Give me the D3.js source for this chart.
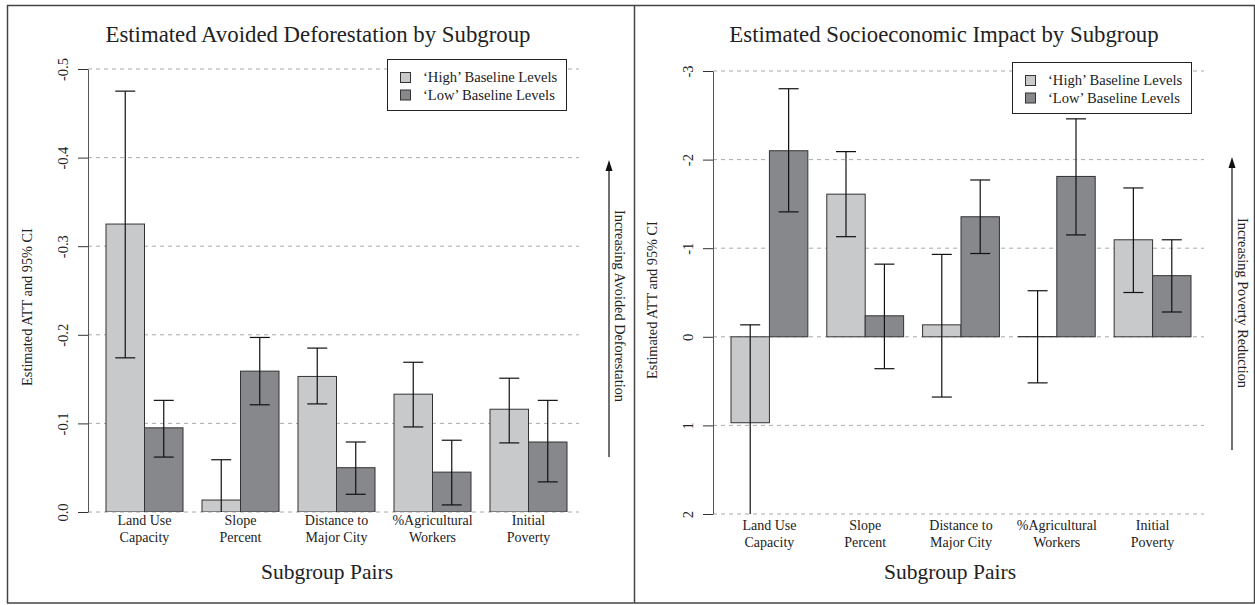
<!DOCTYPE html>
<html>
<head>
<meta charset="utf-8">
<script src="https://cdn.jsdelivr.net/npm/d3@7"></script>
<style>
  body { margin: 0; background: #fff; }
  text { font-family: "Liberation Serif", "Times New Roman", serif; fill: #222; }
</style>
</head>
<body>
<div id="chart"></div>
<script>
var svgWidth = 1255;
var svgHeight = 605;

// subgroup pairs (two-line labels)
var groups = [
  ["Land Use", "Capacity"],
  ["Slope", "Percent"],
  ["Distance to", "Major City"],
  ["%Agricultural", "Workers"],
  ["Initial", "Poverty"]
];
var seriesNames = ["\u2018High\u2019 Baseline Levels", "\u2018Low\u2019 Baseline Levels"];

// left chart: avoided deforestation (ATT, with 95% CI ends)
var defHighEst = [-0.325, -0.0135, -0.153, -0.133, -0.116];
var defHighUpper = [-0.475, -0.059, -0.185, -0.169, -0.151];
var defHighLower = [-0.174, 0.032, -0.122, -0.096, -0.078];
var defLowEst = [-0.095, -0.159, -0.050, -0.045, -0.079];
var defLowUpper = [-0.126, -0.197, -0.079, -0.081, -0.126];
var defLowLower = [-0.062, -0.121, -0.020, -0.008, -0.034];
var defTicks = [-0.5, -0.4, -0.3, -0.2, -0.1, 0.0];

// right chart: socioeconomic impact
var socHighEst = [0.97, -1.61, -0.135, -0.003, -1.095];
var socHighUpper = [-0.135, -2.09, -0.93, -0.52, -1.68];
var socHighLower = [2.08, -1.13, 0.68, 0.52, -0.50];
var socLowEst = [-2.10, -0.237, -1.355, -1.81, -0.69];
var socLowUpper = [-2.80, -0.82, -1.77, -2.46, -1.095];
var socLowLower = [-1.41, 0.36, -0.94, -1.15, -0.28];
var socTicks = [-3, -2, -1, 0, 1, 2];

var colors = ["#c8c9cb", "#87888c"];

var svg = d3.select("#chart")
  .append("svg")
  .attr("width", svgWidth)
  .attr("height", svgHeight);

// outer frame and divider
svg.append("rect")
  .attr("x", 7.5).attr("y", 5.5)
  .attr("width", 1247).attr("height", 597.5)
  .attr("fill", "none").attr("stroke", "#444").attr("stroke-width", 1.5);
svg.append("line")
  .attr("x1", 634.5).attr("x2", 634.5).attr("y1", 5).attr("y2", 603)
  .attr("stroke", "#444").attr("stroke-width", 1.5);

// R style labels use a plain hyphen for the minus sign
function hyphen(f) {
  return d => f(d).replace("\u2212", "-");
}

function drawPanel(p, id) {
  var g = svg.append("g");

  var y = d3.scaleLinear().domain(p.domain).range([p.yBottom, p.yTop]);
  var x0 = d3.scaleBand().domain(d3.range(groups.length))
    .range([p.barStart, p.barEnd]).paddingInner(19 / 96).paddingOuter(0);
  var x1 = d3.scaleBand().domain([0, 1]).range([0, x0.bandwidth()]);

  // title
  g.append("text")
    .attr("x", p.titleX).attr("y", 42)
    .attr("text-anchor", "middle")
    .style("font-size", "22.8px")
    .text(p.title);

  // dashed grid
  g.selectAll(".grid")
    .data(p.ticks)
    .enter()
    .append("line")
    .attr("x1", p.axisX).attr("x2", p.gridEnd)
    .attr("y1", d => y(d)).attr("y2", d => y(d))
    .attr("stroke", "#aaa").attr("stroke-width", 1)
    .attr("stroke-dasharray", "4,4");

  // y axis
  var yAxis = g.append("g")
    .attr("transform", `translate(${p.axisX},0)`)
    .call(d3.axisLeft(y).tickValues(p.ticks).tickFormat(hyphen(p.fmt)).tickSize(10).tickSizeOuter(0));
  yAxis.select(".domain").attr("stroke", "#555");
  yAxis.selectAll(".tick line").attr("stroke", "#333");
  yAxis.selectAll(".tick text")
    .attr("transform", "rotate(-90)")
    .attr("x", 0).attr("y", -20).attr("dy", 0)
    .attr("text-anchor", "middle")
    .style("font-size", "14.5px")
    .style("font-family", "Liberation Serif")
    .attr("fill", "#222");

  g.append("text")
    .attr("transform", `translate(${p.axisX - 56},${p.ylabY}) rotate(-90)`)
    .attr("text-anchor", "middle")
    .style("font-size", "14.3px")
    .text("Estimated ATT and 95% CI");

  // clip for plot region
  g.append("clipPath").attr("id", "clip" + id)
    .append("rect")
    .attr("x", p.axisX).attr("y", p.yTop)
    .attr("width", p.gridEnd - p.axisX).attr("height", p.yBottom - p.yTop);

  var rows = [];
  groups.forEach(function(grp, i) {
    rows.push({ g: i, s: 0, est: p.highEst[i], up: p.highUpper[i], lo: p.highLower[i] });
    rows.push({ g: i, s: 1, est: p.lowEst[i], up: p.lowUpper[i], lo: p.lowLower[i] });
  });

  var plot = g.append("g").attr("clip-path", `url(#clip${id})`);

  plot.selectAll(".bar")
    .data(rows)
    .enter()
    .append("rect")
    .attr("x", d => x0(d.g) + x1(d.s))
    .attr("width", x1.bandwidth())
    .attr("y", d => Math.min(y(d.est), y(0)))
    .attr("height", d => Math.abs(y(d.est) - y(0)))
    .attr("fill", d => colors[d.s])
    .attr("stroke", "#333").attr("stroke-width", 1);

  var cx = d => x0(d.g) + x1(d.s) + x1.bandwidth() / 2;

  plot.selectAll(".err")
    .data(rows)
    .enter()
    .append("line")
    .attr("x1", cx).attr("x2", cx)
    .attr("y1", d => y(d.up)).attr("y2", d => y(d.lo))
    .attr("stroke", "#111").attr("stroke-width", 1.2);

  ["up", "lo"].forEach(function(k) {
    plot.selectAll(".cap" + k)
      .data(rows)
      .enter()
      .append("line")
      .attr("x1", d => cx(d) - 10).attr("x2", d => cx(d) + 10)
      .attr("y1", d => y(d[k])).attr("y2", d => y(d[k]))
      .attr("stroke", "#111").attr("stroke-width", 1.2);
  });

  // category labels
  var labels = g.selectAll(".cat")
    .data(groups)
    .enter()
    .append("text")
    .attr("text-anchor", "middle")
    .style("font-size", "14px");
  labels.append("tspan")
    .attr("x", (d, i) => x0(i) + x0.bandwidth() / 2)
    .attr("y", p.yBottom + p.catGap)
    .text(d => d[0]);
  labels.append("tspan")
    .attr("x", (d, i) => x0(i) + x0.bandwidth() / 2)
    .attr("y", p.yBottom + p.catGap + 17)
    .text(d => d[1]);

  g.append("text")
    .attr("x", p.xlabX).attr("y", 579)
    .attr("text-anchor", "middle")
    .style("font-size", "21.5px")
    .text("Subgroup Pairs");

  // legend
  var leg = g.append("g").attr("transform", `translate(${p.legX},${p.legY})`);
  leg.append("rect")
    .attr("x", 0.5).attr("y", 0.5).attr("width", 179).attr("height", 51)
    .attr("fill", "#fff").attr("stroke", "#222").attr("stroke-width", 1);
  seriesNames.forEach(function(name, i) {
    leg.append("rect")
      .attr("x", 13.5).attr("y", 13.5 + i * 17.5).attr("width", 10).attr("height", 10)
      .attr("fill", colors[i]).attr("stroke", "#333");
    leg.append("text")
      .attr("x", 36).attr("y", 23 + i * 17.5)
      .style("font-size", "14.6px")
      .text(name);
  });

  // direction arrow
  g.append("line")
    .attr("x1", p.arrowX).attr("x2", p.arrowX)
    .attr("y1", p.arrowBottom).attr("y2", p.arrowTop + 9)
    .attr("stroke", "#111").attr("stroke-width", 1.2);
  g.append("path")
    .attr("d", `M${p.arrowX},${p.arrowTop} L${p.arrowX - 3.5},${p.arrowTop + 11} L${p.arrowX + 3.5},${p.arrowTop + 11} Z`)
    .attr("fill", "#111");
  g.append("text")
    .attr("transform", `translate(${p.arrowX + 6},${p.arrowTextY}) rotate(90)`)
    .attr("text-anchor", "middle")
    .style("font-size", "14.3px")
    .text(p.arrowText);
}

drawPanel({
  title: "Estimated Avoided Deforestation by Subgroup",
  titleX: 318, xlabX: 327,
  domain: [0, -0.5], ticks: defTicks, fmt: d3.format(".1f"),
  axisX: 88, barStart: 106, barEnd: 567, gridEnd: 579,
  yTop: 69, yBottom: 512, ylabY: 307, catGap: 13,
  highEst: defHighEst, highUpper: defHighUpper, highLower: defHighLower,
  lowEst: defLowEst, lowUpper: defLowUpper, lowLower: defLowLower,
  legX: 387, legY: 59,
  arrowX: 609, arrowTop: 160, arrowBottom: 457, arrowTextY: 306,
  arrowText: "Increasing Avoided Deforestation"
}, "L");

drawPanel({
  title: "Estimated Socioeconomic Impact by Subgroup",
  titleX: 944, xlabX: 950,
  domain: [2, -3], ticks: socTicks, fmt: d3.format("d"),
  axisX: 713, barStart: 731, barEnd: 1191, gridEnd: 1204,
  yTop: 71, yBottom: 514, ylabY: 300, catGap: 16,
  highEst: socHighEst, highUpper: socHighUpper, highLower: socHighLower,
  lowEst: socLowEst, lowUpper: socLowUpper, lowLower: socLowLower,
  legX: 1012, legY: 62,
  arrowX: 1232, arrowTop: 157, arrowBottom: 450, arrowTextY: 303,
  arrowText: "Increasing Poverty Reduction"
}, "R");
</script>
</body>
</html>
